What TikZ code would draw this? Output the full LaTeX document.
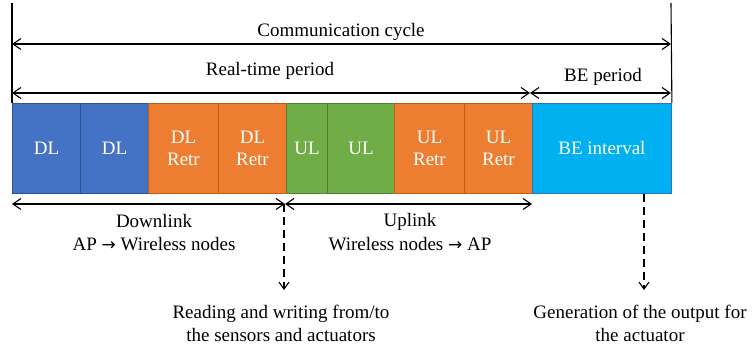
\documentclass[tikz,border=0pt]{standalone}
\usepackage{fontspec}
\setmainfont{Liberation Serif}
\newfontfamily\arrowfont{DejaVu Sans}
\usetikzlibrary{arrows.meta}

\definecolor{dlfill}{HTML}{4472C4}
\definecolor{dledge}{HTML}{2F528F}
\definecolor{retrfill}{HTML}{ED7D31}
\definecolor{retredge}{HTML}{C55A11}
\definecolor{ulfill}{HTML}{70AD47}
\definecolor{uledge}{HTML}{507E32}
\definecolor{befill}{HTML}{00B0F0}
\definecolor{beedge}{HTML}{2E75B6}

\newcommand{\toarrow}{{\arrowfont\fontsize{17}{22}\selectfont →}}

\begin{document}
\begin{tikzpicture}[x=1pt,y=-1pt,
  slot/.style={draw, line width=0.9pt, minimum height=90pt, inner sep=0pt,
    anchor=north west, text=white, align=center,
    font=\fontsize{19}{22}\selectfont},
  dlslot/.style={slot, fill=dlfill, draw=dledge},
  retrslot/.style={slot, fill=retrfill, draw=retredge},
  ulslot/.style={slot, fill=ulfill, draw=uledge},
  beslot/.style={slot, fill=befill, draw=beedge},
  lbl/.style={font=\fontsize{19}{23}\selectfont, align=center, inner sep=0pt, anchor=base},
  span/.style={line width=1.1pt,
    {Straight Barb[length=8pt,width=11pt]}-{Straight Barb[length=8pt,width=11pt]}},
  edge/.style={line width=1.1pt},
  cue/.style={line width=1.1pt, dash pattern=on 8pt off 5pt,
    -{Straight Barb[length=7pt,width=10pt]}}
]
\useasboundingbox (0,0) rectangle (754,347);

% time slots of one cycle
\node[dlslot,   minimum width=68pt]  (s1) at (12,103)  {DL};
\node[dlslot,   minimum width=68pt]  (s2) at (80,103)  {DL};
\node[retrslot, minimum width=70pt]  (s3) at (148,103) {DL\\Retr};
\node[retrslot, minimum width=68pt]  (s4) at (218,103) {DL\\Retr};
\node[ulslot,   minimum width=41pt]  (s5) at (286,103) {UL};
\node[ulslot,   minimum width=67pt]  (s6) at (327,103) {UL};
\node[retrslot, minimum width=70pt]  (s7) at (394,103) {UL\\Retr};
\node[retrslot, minimum width=68pt]  (s8) at (464,103) {UL\\Retr};
\node[beslot,   minimum width=139pt] (s9) at (532,103) {BE interval};

% limits of the cycle
\coordinate (topL) at (12,3);
\coordinate (topR) at (671,3);
\draw[edge] (topL) -- (s1.north west);
\draw[edge] (topR) -- (s9.north east);

% period spans
\coordinate (ccL) at (12,44);
\coordinate (ccR) at (671,44);
\coordinate (rtL) at (12,93);
\coordinate (rtR) at (530,93);
\coordinate (beR) at (671,93);
\draw[span] (ccL) -- (ccR);
\draw[span] (rtL) -- (rtR);
\draw[span] (rtR) -- (beR);
\node[lbl] (cc) at (341,36.5) {Communication cycle};
\node[lbl] (rt) at (270,76) {Real-time period};
\node[lbl] (be) at (603,82) {BE period};

% downlink / uplink spans
\coordinate (dlL) at (12,204);
\coordinate (mid) at (285,204);
\coordinate (ulR) at (532,204);
\draw[span] (dlL) -- (mid);
\draw[span] (mid) -- (ulR);
\node[lbl] (dl) at (154,251) {Downlink\\AP \toarrow\ Wireless nodes};
\node[lbl] (ul) at (410,250) {Uplink\\Wireless nodes \toarrow\ AP};

% events
\coordinate (io) at (284,204);
\coordinate (ioEnd) at (284,290);
\coordinate (out) at (644,194);
\coordinate (outEnd) at (644,290);
\draw[cue] (io) -- (ioEnd);
\draw[cue] (out) -- (outEnd);
\node[lbl] (rw) at (281,341) {Reading and writing from/to\\the sensors and actuators};
\node[lbl] (gen) at (640,341) {Generation of the output for\\the actuator};
\end{tikzpicture}
\end{document}
